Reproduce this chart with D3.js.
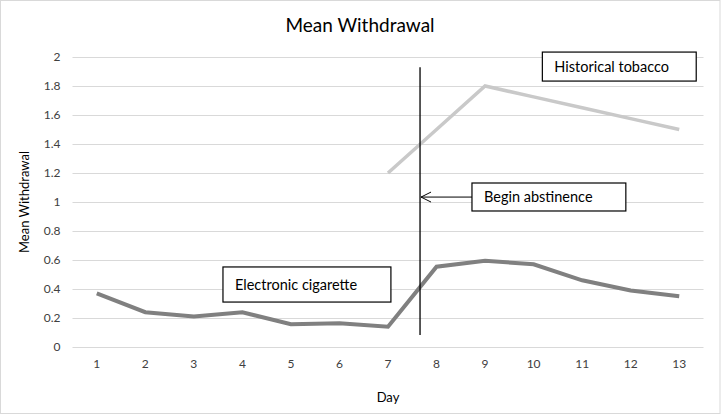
<!DOCTYPE html>
<html>
<head>
<meta charset="utf-8">
<script src="https://cdn.jsdelivr.net/npm/d3@7"></script>
<style>
  body { margin: 0; background: #fff; }
  svg { font-family: Lato, "Noto Sans", sans-serif; }
</style>
</head>
<body>
<svg width="721" height="415"></svg>
<script>
// данные графика
const days = [1, 2, 3, 4, 5, 6, 7, 8, 9, 10, 11, 12, 13];
const eCigarette = [0.37, 0.24, 0.21, 0.24, 0.157, 0.163, 0.14, 0.554, 0.595, 0.57, 0.46, 0.39, 0.35];
const tobaccoDays = [7, 8, 9, 10, 11, 12, 13];
const tobacco = [1.2, 1.5, 1.8, 1.725, 1.65, 1.575, 1.5];
const yTicks = [0, 0.2, 0.4, 0.6, 0.8, 1, 1.2, 1.4, 1.6, 1.8, 2];
const abstinenceDay = 7.66;

const svg = d3.select("svg");
const attr_area = { width: 721, height: 415, left: 72.5, right: 703.5, top: 57, bottom: 347 };

// внешняя рамка
svg.append("rect")
    .attr("x", 0.5).attr("y", 0.5)
    .attr("width", attr_area.width - 1.5).attr("height", attr_area.height - 2)
    .style("fill", "none").style("stroke", "#d9d9d9");

const scaleX = d3.scaleBand()
    .domain(days)
    .range([attr_area.left, attr_area.right]);
const step = scaleX.bandwidth();
// позиция дня (в т.ч. дробного) по центру категории
const dayX = d => scaleX(1) + step / 2 + (d - 1) * step;

const scaleY = d3.scaleLinear()
    .domain([0, 2])
    .range([attr_area.bottom, attr_area.top]);

// сетка
svg.append("g")
    .selectAll("line")
    .data(yTicks)
    .enter()
    .append("line")
    .attr("x1", attr_area.left).attr("x2", attr_area.right)
    .attr("y1", d => scaleY(d) + 0.5).attr("y2", d => scaleY(d) + 0.5)
    .style("stroke", "#d9d9d9");

// подписи осей
const axisY = d3.axisLeft(scaleY).tickValues(yTicks).tickFormat(d3.format("~g")).tickSize(0).tickPadding(12);
const gY = svg.append("g")
    .attr("transform", `translate(${attr_area.left}, 0)`)
    .call(axisY);
gY.select(".domain").remove();
gY.selectAll("text").style("font-size", "12px").style("fill", "#404040").style("font-family", "Lato, sans-serif");

const axisX = d3.axisBottom(scaleX).tickSize(0).tickPadding(12);
const gX = svg.append("g")
    .attr("transform", `translate(0, ${attr_area.bottom})`)
    .call(axisX);
gX.select(".domain").remove();
gX.selectAll("text").style("font-size", "12px").style("fill", "#404040").style("font-family", "Lato, sans-serif");

// линии
const line = d3.line()
    .x(d => dayX(d[0]))
    .y(d => scaleY(d[1]));

svg.append("path")
    .datum(tobaccoDays.map((d, i) => [d, tobacco[i]]))
    .attr("d", line)
    .style("fill", "none")
    .style("stroke", "#c9c9c9")
    .style("stroke-width", 3.5);

svg.append("path")
    .datum(days.map((d, i) => [d, eCigarette[i]]))
    .attr("d", line)
    .style("fill", "none")
    .style("stroke", "#808080")
    .style("stroke-width", 4);

// вертикальная линия начала воздержания
svg.append("line")
    .attr("x1", dayX(abstinenceDay)).attr("x2", dayX(abstinenceDay))
    .attr("y1", scaleY(1.93)).attr("y2", scaleY(0.083))
    .style("stroke", "#000").style("stroke-width", 1.3);

// подписи-выноски
const notes = [
    { text: "Historical tobacco", x0: 10.18, x1: 13.35, y0: 2.034, y1: 1.834 },
    { text: "Begin abstinence", x0: 8.73, x1: 11.9, y0: 1.131, y1: 0.938 },
    { text: "Electronic cigarette", x0: 3.6, x1: 7.06, y0: 0.552, y1: 0.31 }
];

// стрелка
const arrowY = scaleY(1.034);
const ax = dayX(abstinenceDay) + 1;
svg.append("line")
    .attr("x1", dayX(8.73)).attr("x2", ax)
    .attr("y1", arrowY).attr("y2", arrowY)
    .style("stroke", "#000").style("stroke-width", 1);
svg.append("path")
    .attr("d", `M${ax + 10},${arrowY - 5}L${ax},${arrowY}L${ax + 10},${arrowY + 5}`)
    .style("fill", "none").style("stroke", "#000").style("stroke-width", 1);

const gNotes = svg.selectAll(".note")
    .data(notes)
    .enter()
    .append("g")
    .attr("class", "note");
gNotes.append("rect")
    .attr("x", d => dayX(d.x0)).attr("y", d => scaleY(d.y0))
    .attr("width", d => dayX(d.x1) - dayX(d.x0))
    .attr("height", d => scaleY(d.y1) - scaleY(d.y0))
    .style("fill", "#fff").style("stroke", "#000").style("stroke-width", 1.2);
gNotes.append("text")
    .attr("x", d => dayX(d.x0) + 12)
    .attr("y", d => (scaleY(d.y0) + scaleY(d.y1)) / 2 + 5)
    .style("font-size", "14.5px").style("fill", "#000")
    .text(d => d.text);

// заголовки
svg.append("text")
    .attr("x", 360).attr("y", 32)
    .attr("text-anchor", "middle")
    .style("font-size", "19px").style("fill", "#000")
    .text("Mean Withdrawal");

svg.append("text")
    .attr("x", (attr_area.left + attr_area.right) / 2).attr("y", 402)
    .attr("text-anchor", "middle")
    .style("font-size", "13px").style("fill", "#000")
    .text("Day");

svg.append("text")
    .attr("transform", `translate(29, ${(attr_area.top + attr_area.bottom) / 2}) rotate(-90)`)
    .attr("text-anchor", "middle")
    .style("font-size", "13px").style("fill", "#000")
    .text("Mean Withdrawal");
</script>
</body>
</html>
